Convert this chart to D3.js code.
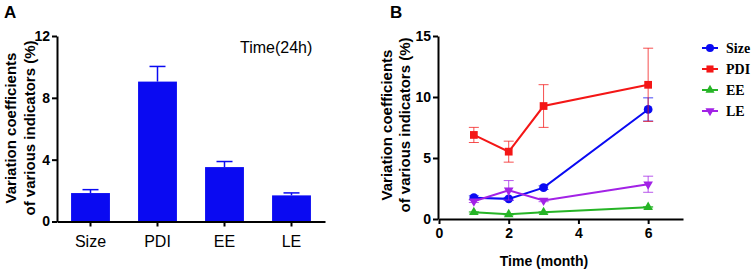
<!DOCTYPE html>
<html>
<head>
<meta charset="utf-8">
<script src="https://cdn.jsdelivr.net/npm/d3@7"></script>
<style>
  body { margin: 0; background: #fff; }
  svg { display: block; font-family: Arial, "Liberation Sans", sans-serif; }
  .axis path, .axis line { stroke: #000; stroke-width: 2; }
  .axis text { font-size: 14px; font-weight: bold; fill: #000; }
</style>
</head>
<body>
<div id="chart"></div>
<script>
// Panel A data (24h)
const categoriesA = ["Size", "PDI", "EE", "LE"];
const meansA = [1.84, 9.05, 3.52, 1.69];
const errorsA = [0.22, 0.98, 0.36, 0.16];
const ticksA = [0, 4, 8, 12];

// Panel B data (months)
const months = [1, 2, 3, 6];
const seriesNames = ["Size", "PDI", "EE", "LE"];
const sizeMean = [1.75, 1.65, 2.57, 8.98];
const sizeErr = [0.15, 0.12, 0.15, 0.95];
const pdiMean = [6.89, 5.52, 9.26, 11.0];
const pdiErr = [0.62, 0.86, 1.75, 3.0];
const eeMean = [0.55, 0.38, 0.55, 0.97];
const eeErr = [0.05, 0.05, 0.05, 0.05];
const leMean = [1.45, 2.35, 1.52, 2.85];
const leErr = [0.1, 0.8, 0.1, 0.66];
const ticksBy = [0, 5, 10, 15];
const ticksBx = [0, 2, 4, 6];

const colors = { Size: "#0a0af2", PDI: "#f41616", EE: "#26b426", LE: "#a222e6" };
const symbols = { Size: d3.symbolCircle, PDI: d3.symbolSquare, EE: d3.symbolTriangle, LE: d3.symbolTriangle };

const svg = d3.select("#chart").append("svg")
    .attr("width", 752)
    .attr("height", 272);

// ---------- Panel A ----------
const a = { left: 57, right: 325, top: 36, bottom: 221.5 };

const xA = d3.scaleBand()
    .domain(categoriesA)
    .range([a.left, a.right])
    .paddingInner(0.42)
    .paddingOuter(0.21);

const yA = d3.scaleLinear()
    .domain([0, 12])
    .range([a.bottom, a.top]);

// error bars (upper only)
const errA = svg.append("g");
categoriesA.forEach((c, i) => {
  const cx = xA(c) + xA.bandwidth() / 2;
  errA.append("line")
      .attr("x1", cx).attr("x2", cx)
      .attr("y1", yA(meansA[i])).attr("y2", yA(meansA[i] + errorsA[i]))
      .attr("stroke", "#0a0af2").attr("stroke-width", 1.5);
  errA.append("line")
      .attr("x1", cx - 8).attr("x2", cx + 8)
      .attr("y1", yA(meansA[i] + errorsA[i])).attr("y2", yA(meansA[i] + errorsA[i]))
      .attr("stroke", "#0a0af2").attr("stroke-width", 1.5);
});

svg.append("g")
  .selectAll("rect")
  .data(categoriesA)
  .join("rect")
    .attr("x", d => xA(d))
    .attr("y", (d, i) => yA(meansA[i]))
    .attr("width", xA.bandwidth())
    .attr("height", (d, i) => yA(0) - yA(meansA[i]))
    .attr("fill", "#0a0af2");

svg.append("g")
    .attr("class", "axis")
    .attr("transform", `translate(${a.left},0)`)
    .call(d3.axisLeft(yA).tickValues(ticksA).tickSize(5).tickSizeOuter(0).tickPadding(2));

const axA = svg.append("g")
    .attr("class", "axis")
    .attr("transform", `translate(0,${a.bottom})`)
    .call(d3.axisBottom(xA).tickSize(5).tickSizeOuter(0).tickPadding(9));
axA.selectAll("text")
    .style("font-size", "16px")
    .style("font-weight", "normal");

svg.append("text")
    .attr("x", 240)
    .attr("y", 53)
    .style("font-size", "16px")
    .text("Time(24h)");

svg.append("text")
    .attr("x", 4)
    .attr("y", 18)
    .style("font-size", "17px")
    .style("font-weight", "bold")
    .text("A");

const titleA = svg.append("text")
    .attr("transform", "rotate(-90)")
    .attr("text-anchor", "middle")
    .style("font-size", "15px")
    .style("font-weight", "bold");
titleA.append("tspan").attr("x", -128).attr("y", 16).text("Variation coefficients");
titleA.append("tspan").attr("x", -128).attr("y", 35).text("of various indicators (%)");

// ---------- Panel B ----------
const b = { left: 438, right: 683, top: 36, bottom: 219 };

const xB = d3.scaleLinear()
    .domain([0, 7])
    .range([b.left + 1, b.right]);

const yB = d3.scaleLinear()
    .domain([0, 15])
    .range([b.bottom, b.top]);

svg.append("g")
    .attr("class", "axis")
    .attr("transform", `translate(${b.left},0)`)
    .call(d3.axisLeft(yB).tickValues(ticksBy).tickSize(5).tickSizeOuter(0).tickPadding(2));

svg.append("g")
    .attr("class", "axis")
    .attr("transform", `translate(0,${b.bottom})`)
    .call(d3.axisBottom(xB).tickValues(ticksBx).tickFormat(d3.format("d"))
      .tickSize(5).tickSizeOuter(0).tickPadding(4));

const seriesB = [
  { name: "Size", mean: sizeMean, err: sizeErr },
  { name: "PDI", mean: pdiMean, err: pdiErr },
  { name: "EE", mean: eeMean, err: eeErr },
  { name: "LE", mean: leMean, err: leErr }
];

const line = d3.line()
    .x(d => xB(d[0]))
    .y(d => yB(d[1]));

seriesB.forEach(s => {
  const col = colors[s.name];
  const pts = months.map((m, i) => [m, s.mean[i], s.err[i]]);
  const g = svg.append("g");

  // error bars
  pts.forEach(p => {
    const cx = xB(p[0]);
    g.append("line")
        .attr("x1", cx).attr("x2", cx)
        .attr("y1", yB(p[1] - p[2])).attr("y2", yB(p[1] + p[2]))
        .attr("stroke", col).attr("stroke-width", 1).attr("opacity", 0.75);
    [p[1] - p[2], p[1] + p[2]].forEach(v => {
      g.append("line")
          .attr("x1", cx - 5).attr("x2", cx + 5)
          .attr("y1", yB(v)).attr("y2", yB(v))
          .attr("stroke", col).attr("stroke-width", 1).attr("opacity", 0.75);
    });
  });

  g.append("path")
      .datum(pts)
      .attr("fill", "none")
      .attr("stroke", col)
      .attr("stroke-width", 2)
      .attr("d", line);

  g.selectAll("path.m")
    .data(pts)
    .join("path")
      .attr("class", "m")
      .attr("transform", d => `translate(${xB(d[0])},${yB(d[1])})` + (s.name === "LE" ? " rotate(180)" : ""))
      .attr("d", d3.symbol().type(symbols[s.name]).size(s.name === "Size" || s.name === "PDI" ? 60 : 40))
      .attr("fill", col);
});

// legend
const legend = svg.append("g")
  .selectAll("g")
  .data(seriesNames)
  .join("g")
    .attr("transform", (d, i) => `translate(710,${48 + i * 21})`);

legend.append("line")
    .attr("x1", -8).attr("x2", 8)
    .attr("stroke", d => colors[d])
    .attr("stroke-width", 2);

legend.append("path")
    .attr("transform", d => d === "LE" ? "rotate(180)" : null)
    .attr("d", d => d3.symbol().type(symbols[d]).size(d === "Size" || d === "PDI" ? 50 : 36)())
    .attr("fill", d => colors[d]);

legend.append("text")
    .attr("x", 16)
    .attr("y", 5)
    .style("font-family", "'Liberation Serif', 'Times New Roman', serif")
    .style("font-size", "14px")
    .style("font-weight", "bold")
    .text(d => d);

svg.append("text")
    .attr("x", 390)
    .attr("y", 18)
    .style("font-size", "17px")
    .style("font-weight", "bold")
    .text("B");

const titleB = svg.append("text")
    .attr("transform", "rotate(-90)")
    .attr("text-anchor", "middle")
    .style("font-size", "15px")
    .style("font-weight", "bold");
titleB.append("tspan").attr("x", -125).attr("y", 392).text("Variation coefficients");
titleB.append("tspan").attr("x", -125).attr("y", 410).text("of various indicators (%)");

svg.append("text")
    .attr("x", 544)
    .attr("y", 266)
    .attr("text-anchor", "middle")
    .style("font-size", "14px")
    .style("font-weight", "bold")
    .text("Time (month)");
</script>
</body>
</html>
